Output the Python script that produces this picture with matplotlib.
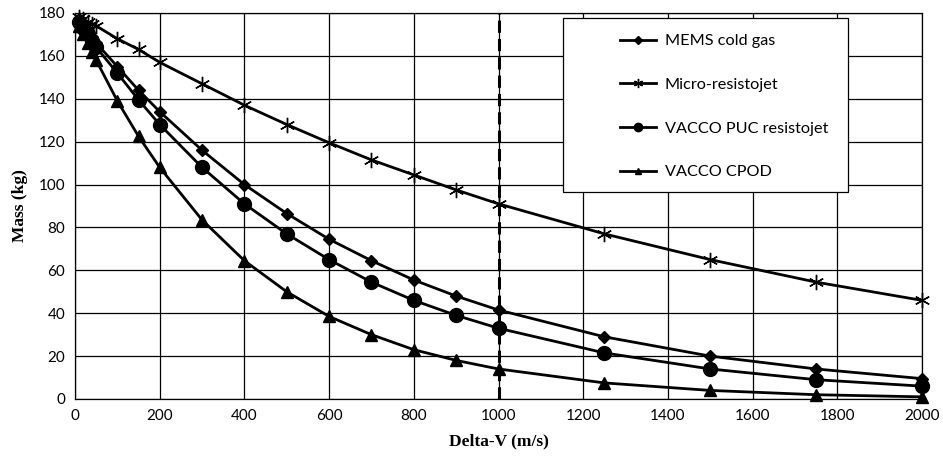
import numpy as np
import matplotlib
matplotlib.use("Agg")
import matplotlib.pyplot as plt
from matplotlib.patches import Rectangle

# delta-v points (m/s)
dv = [10, 20, 30, 40, 50, 100, 150, 200, 300, 400, 500, 600, 700, 800, 900,
      1000, 1250, 1500, 1750, 2000]

mems = [177, 175, 172, 169, 166, 155, 144, 134, 116, 100, 86.5, 74.5, 64.5,
        55.5, 48, 41.5, 29, 20, 14, 9.5]
micro = [178, 177, 176, 175, 174, 168, 163, 157, 147, 137, 128, 119.5, 111.5,
         104.5, 97.5, 91, 77, 65, 54.5, 46]
puc = [176, 173, 170, 167, 164, 152, 139.5, 128, 108, 91, 77, 65, 54.5,
       46, 39, 33, 21.5, 14, 9, 6]
cpod = [174, 170, 166, 162, 158, 139, 122.5, 108, 83.5, 64.5, 50, 38.5, 30,
        23, 18, 14, 7.5, 4, 2, 1]

labels = ["MEMS cold gas", "Micro-resistojet", "VACCO PUC resistojet", "VACCO CPOD"]
limit_dv = 1000

plt.rcParams['font.family'] = ['Lato', 'DejaVu Sans']

W, H = 943, 458
L, R, T, B = 75, 922, 13, 399   # plot area in pixels

def ax_x(px):
    return (px - L) / (R - L)

def ax_y(py):
    return (B - py) / (B - T)

fig = plt.figure(figsize=(W / 100, H / 100), dpi=100)
ax = fig.add_axes([L / W, (H - B) / H, (R - L) / W, (B - T) / H])

lw = 2.0
ax.plot(dv, mems, color='black', lw=lw, marker='D', ms=6.5, label=labels[0], clip_on=False, zorder=3)
ax.plot(dv, micro, color='black', lw=lw, marker=(6, 2, 0), ms=11, mew=1.0, label=labels[1], clip_on=False, zorder=3)
ax.plot(dv, puc, color='black', lw=lw, marker='o', ms=10, label=labels[2], clip_on=False, zorder=3)
ax.plot(dv, cpod, color='black', lw=lw, marker='^', ms=8, label=labels[3], clip_on=False, zorder=3)

ax.axvline(limit_dv, color='black', lw=2.2, ls=(0, (4, 2)), zorder=2.5)

ax.set_xlim(0, 2000)
ax.set_ylim(0, 180)
ax.set_xticks(np.arange(0, 2001, 200))
ax.set_yticks(np.arange(0, 181, 20))
ax.grid(True, color='black', lw=0.9)
ax.set_axisbelow(True)
for s in ax.spines.values():
    s.set_linewidth(0.9)
ax.tick_params(length=0, labelsize=11, pad=7)

ax.set_xlabel("Delta-V (m/s)", family='Liberation Serif', fontweight='bold', fontsize=12.5, labelpad=8)
ax.set_ylabel("Mass (kg)", family='Liberation Serif', fontweight='bold', fontsize=12.5, labelpad=8)

# legend frame
fx0, fx1, fy0, fy1 = 563, 848, 18, 192
ax.add_patch(Rectangle((ax_x(fx0), ax_y(fy1)), ax_x(fx1) - ax_x(fx0), ax_y(fy0) - ax_y(fy1),
                       transform=ax.transAxes, facecolor='white', edgecolor='black', lw=0.9, zorder=4))
leg = ax.legend(loc='upper left', bbox_to_anchor=(ax_x(612), ax_y(26)),
                frameon=False, fontsize=11.7, borderpad=0, handlelength=2.2,
                handletextpad=0.55, labelspacing=1.8, markerscale=0.6)
leg.set_zorder(5)

fig.savefig("out.png", dpi=100)
